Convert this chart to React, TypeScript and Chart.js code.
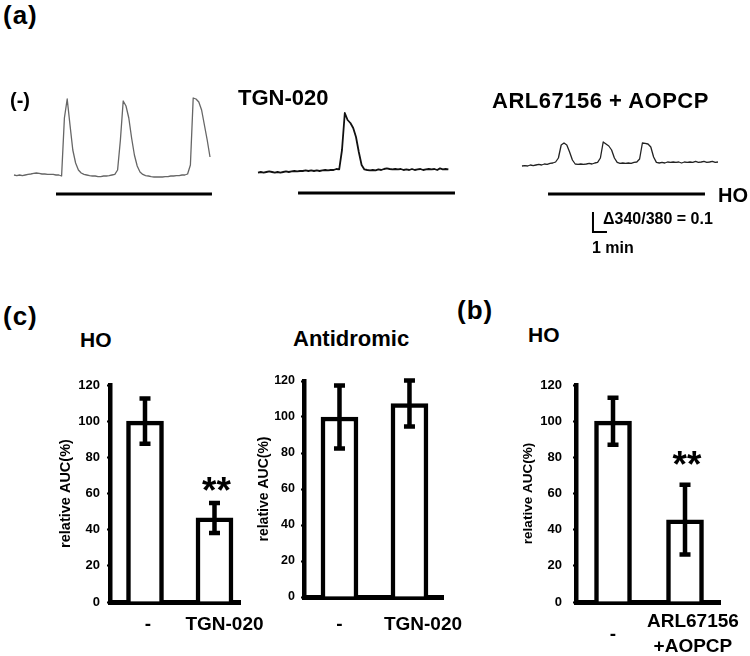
import React, { useEffect, useRef } from "react";
import { Chart, registerables } from "chart.js";

Chart.register(...registerables);

// ---------------- data ----------------
// Ca2+ traces: Δ(340/380) ratio above baseline, one sample every SAMPLE_MIN minutes
const SAMPLE_MIN = 0.2;

const traceControl = [
  0, -0.003, 0, -0.003, 0, 0.003, 0.005, 0.008, 0.01, 0.008,
  0.005, 0.005, 0.003, 0.003, 0.003, 0, 0, -0.005, 0.285, 0.38,
  0.25, 0.125, 0.06, 0.025, 0.01, 0.003, 0, -0.003, -0.005, -0.005,
  -0.008, -0.008, -0.005, -0.005, -0.003, 0, 0.003, 0.025, 0.175, 0.37,
  0.345, 0.285, 0.185, 0.1, 0.045, 0.015, 0.003, -0.003, -0.005, -0.008,
  -0.01, -0.01, -0.01, -0.01, -0.008, -0.008, -0.005, -0.005, -0.003, -0.003,
  0, 0, 0.005, 0.05, 0.385, 0.38, 0.365, 0.325, 0.25, 0.175, 0.09,
];

const traceTGN = [
  -0.003, 0, -0.003, 0, 0.003, 0, -0.003, 0, -0.003, 0,
  0.003, 0, 0.003, 0.005, 0.003, 0.005, 0.005, 0.008, 0.005, 0.008,
  0.005, 0.008, 0.005, 0.008, 0.01, 0.008, 0.01, 0.01, 0.015, 0.013,
  0.11, 0.295, 0.26, 0.245, 0.22, 0.175, 0.1, 0.035, 0.013, 0.01,
  0.008, 0.01, 0.008, 0.013, 0.01, 0.015, 0.018, 0.015, 0.013, 0.015,
  0.013, 0.015, 0.01, 0.013, 0.01, 0.015, 0.01, 0.013, 0.015, 0.01,
  0.013, 0.015, 0.013, 0.015, 0.01, 0.018, 0.013, 0.015, 0.013,
];

const traceARL = [
  -0.005, -0.003, -0.005, 0, -0.003, 0, 0.003, 0, 0.005, 0.003,
  0.008, 0.01, 0.015, 0.035, 0.1, 0.11, 0.1, 0.065, 0.025, 0.005,
  0.003, 0.005, 0.003, 0.005, 0.008, 0.005, 0.01, 0.013, 0.035, 0.115,
  0.105, 0.095, 0.075, 0.035, 0.013, 0.008, 0.01, 0.008, 0.01, 0.008,
  0.013, 0.015, 0.03, 0.11, 0.108, 0.105, 0.09, 0.04, 0.013, 0.01,
  0.013, 0.01, 0.015, 0.013, 0.015, 0.013, 0.015, 0.01, 0.015, 0.013,
  0.015, 0.013, 0.018, 0.013, 0.015, 0.018, 0.013, 0.015, 0.018, 0.013, 0.015,
];

// HO stimulation period (min) for each trace
const stimOn = [3.0, 2.86, 1.86];
const stimOff = [14.14, 14.07, 13.07];

// scale bar
const SCALE_RATIO = 0.1;
const SCALE_MIN = 1;

// bar charts: relative AUC (%) mean ± error
const yTicks = [0, 20, 40, 60, 80, 100, 120];

const cHOCats: (string | string[])[] = ["-", "TGN-020"];
const cHOMeans = [100, 46.5];
const cHOErrs = [12.5, 8.3];
const cHOStars = ["", "**"];

const cAntiCats: (string | string[])[] = ["-", "TGN-020"];
const cAntiMeans = [100, 107.5];
const cAntiErrs = [17.5, 12.8];
const cAntiStars = ["", ""];

const bHOCats: (string | string[])[] = ["-", ["ARL67156", "+AOPCP"]];
const bHOMeans = [100, 45.5];
const bHOErrs = [13, 19.3];
const bHOStars = ["", "**"];

// ---------------- components ----------------
const FONT = '"Liberation Sans", Arial, Helvetica, sans-serif';

type TraceProps = {
  vals: number[];
  color: string;
  lw: number;
  left: number;
  top: number;
  w: number;
  h: number;
  xMin: number;
  xMax: number;
  yMin: number;
  yMax: number;
  stimIdx: number;
  stimY: number;
  scaleBar?: { t: number; y: number };
};

function Trace(p: TraceProps) {
  const ref = useRef<HTMLCanvasElement>(null);
  useEffect(() => {
    const datasets: any[] = [
      {
        data: p.vals.map((v, i) => ({ x: i * SAMPLE_MIN, y: v })),
        borderColor: p.color,
        borderWidth: p.lw,
        pointRadius: 0,
        tension: 0,
        fill: false,
        borderJoinStyle: "round",
      },
      {
        data: [
          { x: stimOn[p.stimIdx], y: p.stimY },
          { x: stimOff[p.stimIdx], y: p.stimY },
        ],
        borderColor: "#000",
        borderWidth: 3,
        pointRadius: 0,
        fill: false,
      },
    ];
    if (p.scaleBar) {
      const sb = p.scaleBar;
      datasets.push({
        data: [
          { x: sb.t, y: sb.y },
          { x: sb.t, y: sb.y - SCALE_RATIO },
          { x: sb.t + SCALE_MIN, y: sb.y - SCALE_RATIO },
        ],
        borderColor: "#000",
        borderWidth: 2,
        pointRadius: 0,
        fill: false,
      });
    }
    const chart = new Chart(ref.current as HTMLCanvasElement, {
      type: "line",
      data: { datasets },
      options: {
        animation: false,
        responsive: false,
        maintainAspectRatio: false,
        events: [],
        layout: { padding: 0 },
        plugins: { legend: { display: false }, tooltip: { enabled: false } },
        scales: {
          x: { type: "linear", display: false, min: p.xMin, max: p.xMax },
          y: { type: "linear", display: false, min: p.yMin, max: p.yMax },
        },
      } as any,
    });
    return () => chart.destroy();
  }, []);
  return (
    <canvas
      ref={ref}
      width={p.w}
      height={p.h}
      style={{ position: "absolute", left: p.left, top: p.top, width: p.w, height: p.h }}
    />
  );
}

type BarProps = {
  cats: (string | string[])[];
  means: number[];
  errs: number[];
  stars: string[];
  left: number;
  top: number;
  w: number;
  h: number;
  yAxisW: number;
  xAxisH: number;
  padTop: number;
  padRight: number;
  xMin: number;
  xMax: number;
  labelShift: number[];
  xLabelGap: number;
  crossAlign: "near" | "center" | "far";
  yTickPad: number;
  yTickSize: number;
  yTitleSize: number;
  starGap: number;
};

function BarPanel(p: BarProps) {
  const ref = useRef<HTMLCanvasElement>(null);
  useEffect(() => {
    const { cats, means, errs, stars } = p;
    const errorBars = {
      id: "errorBars",
      afterDatasetsDraw(chart: any) {
        const ctx = chart.ctx;
        const ys = chart.scales.y;
        const meta = chart.getDatasetMeta(0);
        ctx.save();
        ctx.strokeStyle = "#000";
        ctx.lineWidth = 4.5;
        ctx.lineCap = "butt";
        meta.data.forEach((bar: any, i: number) => {
          const x = bar.x;
          const yT = ys.getPixelForValue(means[i] + errs[i]);
          const yB = ys.getPixelForValue(means[i] - errs[i]);
          ctx.beginPath();
          ctx.moveTo(x, yT);
          ctx.lineTo(x, yB);
          ctx.moveTo(x - 5.5, yT);
          ctx.lineTo(x + 5.5, yT);
          ctx.moveTo(x - 5.5, yB);
          ctx.lineTo(x + 5.5, yB);
          ctx.stroke();
          if (stars[i]) {
            ctx.fillStyle = "#000";
            ctx.font = `bold 37px ${FONT}`;
            ctx.textAlign = "center";
            ctx.textBaseline = "alphabetic";
            ctx.fillText(stars[i], x + 2, yT - p.starGap);
          }
        });
        ctx.restore();
      },
    };
    const chart = new Chart(ref.current as HTMLCanvasElement, {
      type: "bar",
      data: {
        datasets: [
          {
            data: means.map((m, i) => ({ x: i, y: m })),
            backgroundColor: "#fff",
            borderColor: "#000",
            borderWidth: 4.5,
            barThickness: 37,
          },
        ],
      },
      options: {
        animation: false,
        responsive: false,
        maintainAspectRatio: false,
        events: [],
        layout: { padding: { top: p.padTop, right: p.padRight, left: 0, bottom: 0 } },
        plugins: { legend: { display: false }, tooltip: { enabled: false } },
        scales: {
          x: {
            type: "linear",
            min: p.xMin,
            max: p.xMax,
            offset: false,
            bounds: "data",
            afterBuildTicks: (s: any) => {
              s.ticks = cats.map((_, i) => ({ value: i + p.labelShift[i] }));
            },
            afterFit: (s: any) => {
              s.height = p.xAxisH;
            },
            ticks: {
              autoSkip: false,
              maxRotation: 0,
              minRotation: 0,
              padding: 0,
              crossAlign: p.crossAlign,
              color: "#000",
              font: { family: FONT, size: 19, weight: "bold", lineHeight: 1.3 },
              callback: (_v: any, i: number) => cats[i],
            },
            grid: {
              display: true,
              drawOnChartArea: false,
              drawTicks: true,
              tickLength: p.xLabelGap,
              color: "rgba(0,0,0,0)",
            },
            border: { display: true, color: "#000", width: 5 },
          },
          y: {
            min: yTicks[0],
            max: yTicks[yTicks.length - 1],
            afterFit: (s: any) => {
              s.width = p.yAxisW;
            },
            afterBuildTicks: (s: any) => {
              s.ticks = yTicks.map((v) => ({ value: v }));
            },
            ticks: {
              color: "#000",
              padding: p.yTickPad,
              font: { family: FONT, size: p.yTickSize, weight: "bold" },
            },
            grid: {
              display: true,
              drawOnChartArea: false,
              drawTicks: true,
              tickLength: 3,
              tickWidth: 2,
              color: "#000",
            },
            border: { display: true, color: "#000", width: 4.5 },
            title: {
              display: true,
              text: "relative AUC(%)",
              color: "#000",
              font: { family: FONT, size: p.yTitleSize, weight: "bold" },
              padding: { top: 4, bottom: 4 },
            },
          },
        },
      } as any,
      plugins: [errorBars],
    });
    return () => chart.destroy();
  }, []);
  return (
    <canvas
      ref={ref}
      width={p.w}
      height={p.h}
      style={{ position: "absolute", left: p.left, top: p.top, width: p.w, height: p.h }}
    />
  );
}

function Label(props: {
  text: string;
  left: number;
  top: number;
  size: number;
  family?: string;
  spacing?: number;
}) {
  return (
    <div
      style={{
        position: "absolute",
        left: props.left,
        top: props.top,
        fontFamily: props.family || FONT,
        fontWeight: "bold",
        fontSize: props.size,
        lineHeight: `${props.size}px`,
        letterSpacing: props.spacing || 0,
        whiteSpace: "nowrap",
        color: "#000",
      }}
    >
      {props.text}
    </div>
  );
}

export default function App() {
  return (
    <div
      style={{
        position: "absolute",
        left: 0,
        top: 0,
        width: 750,
        height: 656,
        background: "#fff",
        overflow: "hidden",
      }}
    >
      {/* panel (a): traces */}
      <Trace
        vals={traceControl}
        color="#666"
        lw={1.3}
        left={10}
        top={85}
        w={210}
        h={115}
        xMin={-4 / 14}
        xMax={206 / 14}
        yMin={-0.125}
        yMax={0.45}
        stimIdx={0}
        stimY={-0.095}
      />
      <Trace
        vals={traceTGN}
        color="#111"
        lw={1.8}
        left={250}
        top={100}
        w={210}
        h={100}
        xMin={-8 / 14}
        xMax={202 / 14}
        yMin={-0.14}
        yMax={0.36}
        stimIdx={1}
        stimY={-0.105}
      />
      <Trace
        vals={traceARL}
        color="#222"
        lw={1.3}
        left={515}
        top={125}
        w={210}
        h={120}
        xMin={-7 / 14}
        xMax={203 / 14}
        yMin={-0.4}
        yMax={0.2}
        stimIdx={2}
        stimY={-0.145}
        scaleBar={{ t: 5.07, y: -0.235 }}
      />

      <Label text="(a)" left={3} top={2} size={26} spacing={1} />
      <Label text="(-)" left={10} top={90} size={20} />
      <Label text="TGN-020" left={238} top={87} size={22} />
      <Label text="ARL67156 + AOPCP" left={492} top={90} size={22} spacing={0.5} />
      <Label text="HO" left={718} top={185} size={20} />
      <Label text="Δ340/380 = 0.1" left={603} top={211} size={16} />
      <Label text="1 min" left={592} top={240} size={16} />

      {/* panel (c) */}
      <Label text="(c)" left={3} top={303} size={26} spacing={1} />
      <Label text="HO" left={80} top={329} size={21} />
      <Label text="Antidromic" left={293} top={328} size={22} />
      <BarPanel
        cats={cHOCats}
        means={cHOMeans}
        errs={cHOErrs}
        stars={cHOStars}
        left={53}
        top={360}
        w={232}
        h={282}
        yAxisW={57}
        xAxisH={40}
        padTop={25}
        padRight={45}
        xMin={-0.5036}
        xMax={1.367}
        labelShift={[0.043, 0.144]}
        xLabelGap={10}
        crossAlign="near"
        yTickPad={7}
        yTickSize={13}
        yTitleSize={14.5}
        starGap={0}
      />
      <BarPanel
        cats={cAntiCats}
        means={cAntiMeans}
        errs={cAntiErrs}
        stars={cAntiStars}
        left={252}
        top={356}
        w={236}
        h={286}
        yAxisW={52}
        xAxisH={45}
        padTop={25}
        padRight={45}
        xMin={-0.507}
        xMax={1.479}
        labelShift={[0, 0.193]}
        xLabelGap={15}
        crossAlign="near"
        yTickPad={6}
        yTickSize={12.5}
        yTitleSize={14}
        starGap={0}
      />

      {/* panel (b) */}
      <Label text="(b)" left={457} top={297} size={26} spacing={1} />
      <Label text="HO" left={528} top={324} size={21} />
      <BarPanel
        cats={bHOCats}
        means={bHOMeans}
        errs={bHOErrs}
        stars={bHOStars}
        left={516}
        top={360}
        w={234}
        h={296}
        yAxisW={60}
        xAxisH={54}
        padTop={25}
        padRight={30}
        xMin={-0.514}
        xMax={1.486}
        labelShift={[0, 0.11]}
        xLabelGap={20}
        crossAlign="center"
        yTickPad={11}
        yTickSize={13}
        yTitleSize={13.5}
        starGap={8}
      />
    </div>
  );
}
